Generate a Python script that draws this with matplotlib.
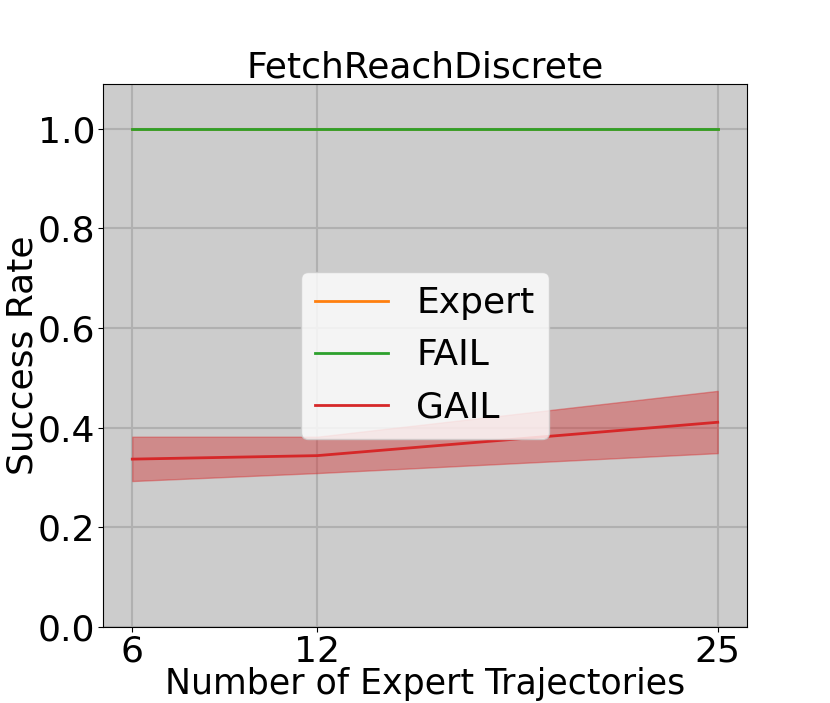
import matplotlib
matplotlib.use("Agg")
import matplotlib.pyplot as plt
import numpy as np

x = [6, 12, 25]
expert = [1.0, 1.0, 1.0]
fail = [1.0, 1.0, 1.0]
gail_mean = [0.337, 0.344, 0.411]
gail_low = [0.293, 0.309, 0.349]
gail_high = [0.382, 0.382, 0.474]

fig = plt.figure(figsize=(8.3, 7.03), dpi=100)
ax = fig.add_axes([103/830, 1 - 627/703, (747-103)/830, (627-84)/703])
ax.set_facecolor("#cccccc")
ax.grid(True, color="#b0b0b0", linewidth=1.5)
ax.set_axisbelow(True)

ax.plot(x, expert, color="tab:orange", linewidth=2, label="Expert")
ax.plot(x, fail, color="tab:green", linewidth=2, label="FAIL")
ax.plot(x, gail_mean, color="tab:red", linewidth=2, label="GAIL")
ax.fill_between(x, gail_low, gail_high, color="tab:red", alpha=0.4)

ax.set_ylim(0, 1.09)
ax.set_xticks(x)
ax.set_yticks([0.0, 0.2, 0.4, 0.6, 0.8, 1.0])
ax.tick_params(labelsize=26, pad=2)
ax.set_xlabel("Number of Expert Trajectories", fontsize=25, labelpad=-1)
ax.set_ylabel("Success Rate", fontsize=26, labelpad=-1)
ax.set_title("FetchReachDiscrete", fontsize=26, pad=4)

leg = ax.legend(loc="center", fontsize=26, facecolor="white", framealpha=0.8,
                edgecolor="#cccccc")

fig.savefig("out.png", dpi=100)
